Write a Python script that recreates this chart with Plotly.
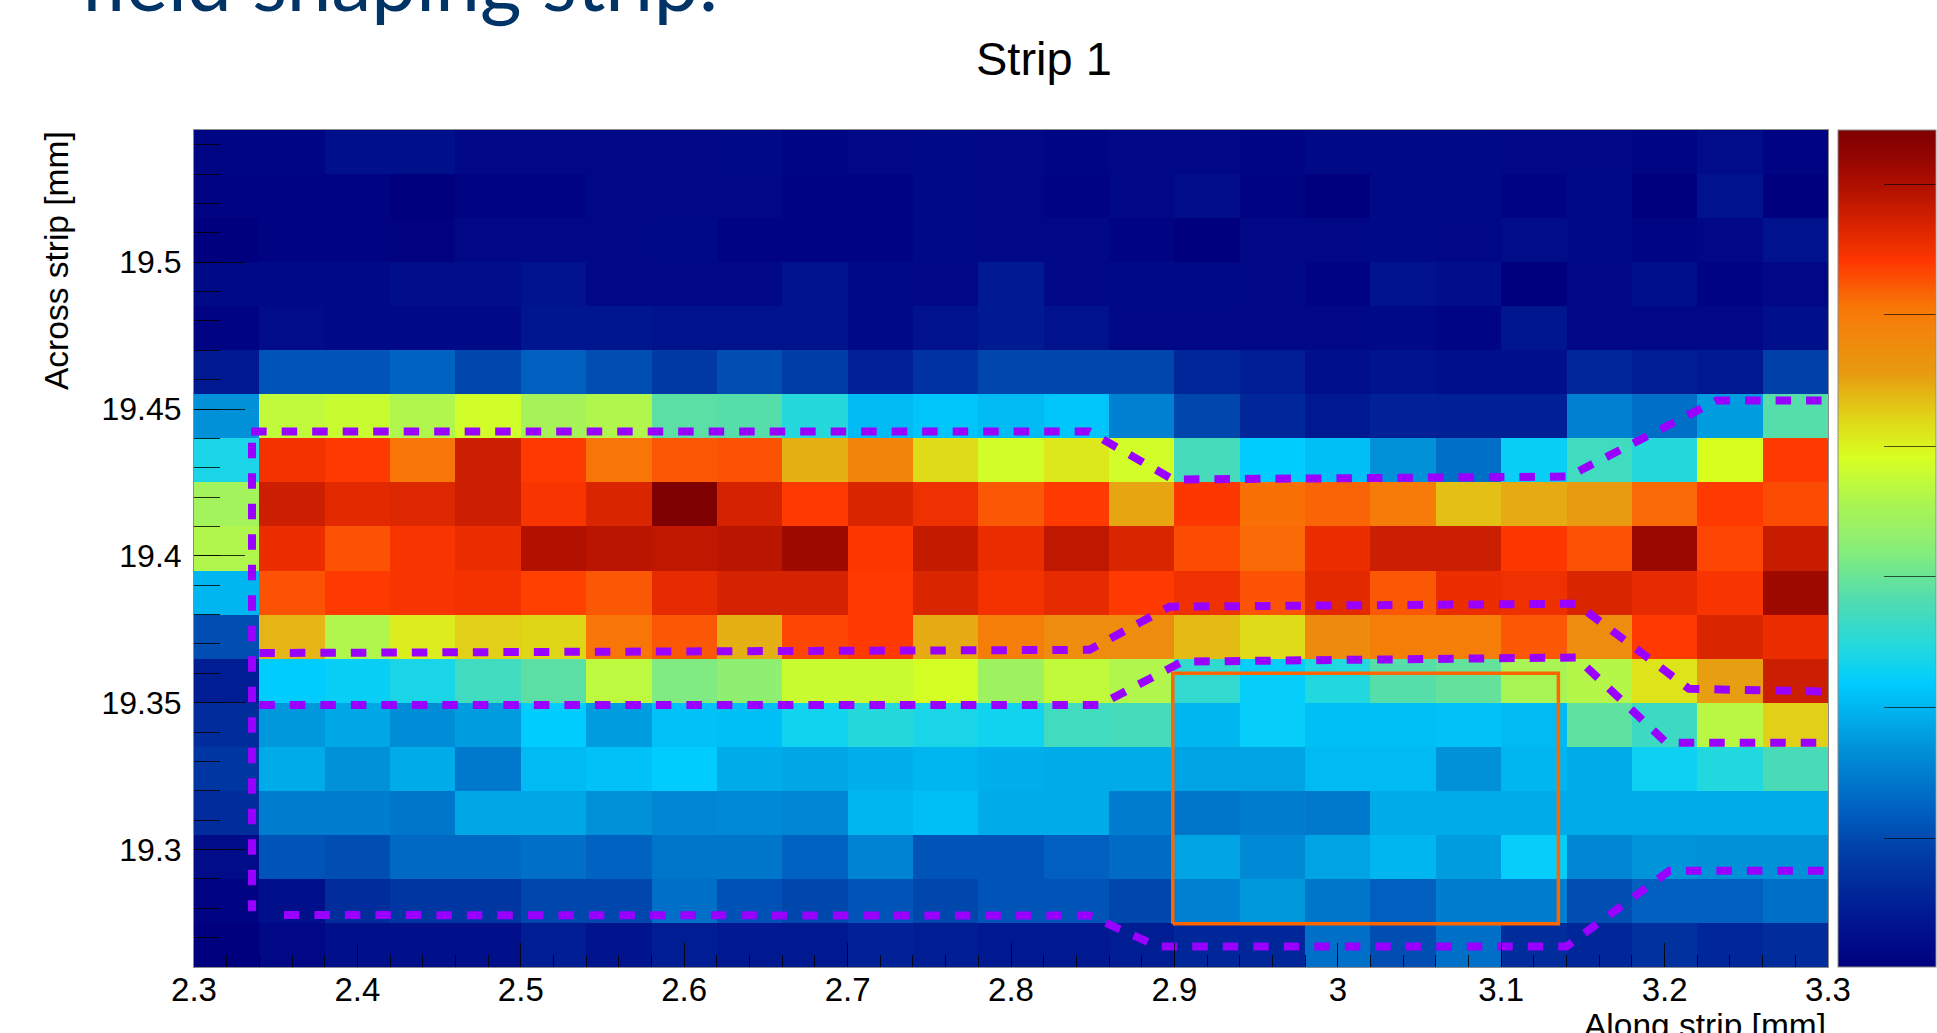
import plotly.graph_objects as go

# Bin edges
x_edges = [round(2.30 + 0.04 * i, 2) for i in range(26)]
y_edges = [round(19.26 + 0.015 * i, 3) for i in range(20)]

z_rows = [
    [1.5, 1.5, 4, 4, 2, 2, 2, 2, 2.5, 1.5, 2, 2.5, 2, 1.5, 2, 2, 1.5, 2.5, 2.5, 2.5, 2, 2, 1.5, 3, 1],
    [1, 1, 1, 0, 1, 1, 2, 2, 2, 1, 1, 2.5, 2, 1, 2, 3, 1, 0, 2.5, 2.5, 1, 2.5, 0, 4.5, 0],
    [0, 1, 1, .5, 2, 2, 2, 2.5, 1, 1, 1, 2.5, 2, 2, 1, 0, 2, 2, 2.5, 2, 3, 2.5, 1.5, 2, 4.5],
    [2.5, 2.5, 2.5, 3.5, 3.5, 4.5, 2, 2, 2, 4.5, 2.5, 2, 6, 2, 2.5, 2.5, 2, 1, 4.5, 3.5, 0, 2, 4, 1, 2],
    [1, 3, 2.5, 2.5, 2.5, 5.5, 5.5, 4.5, 4.5, 4.5, 2.5, 4.5, 6.5, 4.5, 2, 2, 2, 2, 2.5, 1.5, 5.5, 2, 2, 2, 4],
    [6, 17, 17, 19, 15, 18.5, 16, 12.5, 16, 13.5, 8, 11.5, 15, 15, 15, 9, 7, 4, 5, 4, 4, 9, 7, 6, 14],
    [26, 58, 59, 56, 60, 54.5, 56, 45, 44.5, 38.5, 31.5, 33, 31.5, 33, 23.5, 15, 9, 6, 8, 7.5, 7.5, 23.5, 21, 27.5, 44.5],
    [37, 85.5, 84, 79, 90, 84, 79, 81.5, 82, 69, 75.5, 65, 60, 63.5, 60, 42.5, 34, 32, 26, 21, 35, 42, 38.5, 61, 84],
    [54, 90, 87.5, 88, 90, 85, 88.5, 100, 89, 84, 88.5, 86, 81.5, 84, 70, 84.5, 79.5, 80.5, 78, 67.5, 69.5, 71, 80, 84, 82.5],
    [56, 86.5, 82, 85, 86.5, 93, 92, 91.5, 92, 95.5, 84.5, 91, 86.5, 91.5, 88.5, 82.5, 80, 86.5, 90, 90, 84.5, 82, 96, 83, 90.5],
    [31, 82, 84, 85, 85.5, 83.5, 81.5, 87, 89, 89, 84, 88.5, 85.5, 87, 84, 86, 82, 87.5, 81.5, 86.5, 86, 88.5, 87, 85, 95.5],
    [16, 68.5, 56, 63, 66, 65.5, 79, 81.5, 69, 83, 84, 69.5, 77.5, 74, 74, 68, 65, 74.5, 77.5, 77.5, 81.5, 74, 84, 88.5, 86.5],
    [7, 34, 35, 37, 42, 45, 57.5, 49, 51, 59, 59, 60.5, 53.5, 58, 56, 40, 34.5, 38, 44.5, 46, 55, 56.5, 64, 70.5, 90],
    [10, 27, 29, 25.5, 27.5, 34, 27.5, 32.5, 32, 36, 38.5, 37, 36, 42, 42.5, 31, 34.5, 32, 32, 32.5, 31.5, 45.5, 41.5, 57, 66],
    [12, 29.5, 26, 29.5, 22.5, 31.5, 32.5, 34, 29.5, 29, 30, 31, 30, 29.5, 29.5, 28.5, 28.5, 31.5, 31.5, 26, 31, 29.5, 35.5, 38, 43],
    [10, 23, 23, 22, 29, 29, 26, 24.5, 25, 24.5, 31, 32, 29.5, 29.5, 23, 22, 23, 22.5, 29.5, 29.5, 29.5, 29.5, 29.5, 29.5, 29.5],
    [3, 17, 16, 20, 20, 21, 19, 22, 22, 19, 24, 17, 17, 18.5, 20.5, 28.5, 25, 28.5, 31, 27.5, 34.5, 24.5, 26.5, 26, 26],
    [1, 4, 10, 12, 12, 15, 15, 21, 16.5, 15, 17, 15, 17, 17, 15, 23.5, 27, 22, 18.5, 23, 23, 16, 18.5, 18.5, 21],
    [0, 2, 4, 4, 4, 7, 5, 7, 6, 6, 8, 7, 6, 6, 7, 9, 9, 21, 16, 21, 10, 9, 11, 9, 10],
]

# Colour bar ticks (positions on the 0-100 scale, their labels are cropped off in the reference)
cbar_ticks = [15.3, 31.0, 46.6, 62.2, 77.9, 93.5]

# Dashed contours of the field-shaping strip
top_x = [2.335, 2.848, 2.899, 3.141, 3.232, 3.3]
top_y = [19.4423, 19.4423, 19.426, 19.427, 19.4529, 19.4529]
left_x = [2.3355, 2.3355]
left_y = [19.4385, 19.279]
upper_x = [2.34, 2.848, 2.897, 3.146, 3.215, 3.3]
upper_y = [19.3669, 19.368, 19.3827, 19.3837, 19.3547, 19.3538]
lower_x = [2.34, 2.854, 2.905, 3.146, 3.201, 3.3]
lower_y = [19.3492, 19.3492, 19.364, 19.3654, 19.3364, 19.3364]
bottom_x = [2.355, 2.848, 2.89, 3.14, 3.203, 3.3]
bottom_y = [19.2777, 19.2775, 19.267, 19.267, 19.2928, 19.2928]

# Orange box
box_x = [2.899, 3.135, 3.135, 2.899, 2.899]
box_y = [19.2747, 19.2747, 19.360, 19.360, 19.2747]

x_ticks = [2.3, 2.4, 2.5, 2.6, 2.7, 2.8, 2.9, 3.0, 3.1, 3.2, 3.3]
x_labels = ["2.3", "2.4", "2.5", "2.6", "2.7", "2.8", "2.9", "3", "3.1", "3.2", "3.3"]
y_ticks = [19.3, 19.35, 19.4, 19.45, 19.5]
y_labels = ["19.3", "19.35", "19.4", "19.45", "19.5"]

colorscale = [
    [0, "#00007f"], [.06, "#001890"], [.14, "#0040a8"], [.187, "#0060c0"], [.259, "#0090d8"],
    [.339, "#00ccff"], [.379, "#20d8e0"], [.438, "#50dcb0"], [.50, "#88ee78"], [.55, "#a8f455"],
    [.609, "#d8ff20"], [.653, "#e0d818"], [.71, "#e89a10"], [.788, "#f87808"], [.815, "#fa5805"],
    [.842, "#ff3800"], [.877, "#e02800"], [.932, "#b01000"], [.972, "#900400"], [1, "#7f0000"],
]

W, H = 1937, 1033
L, R, T, B = 194, 1828, 130, 967
FONT = "Liberation Sans"

fig = go.Figure()
fig.add_trace(go.Heatmap(
    x=x_edges, y=y_edges, z=z_rows[::-1], zmin=0, zmax=100, colorscale=colorscale,
    hoverinfo="skip",
    colorbar=dict(
        xref="container", x=1838 / W, xanchor="left", xpad=0,
        yref="paper", y=0, yanchor="bottom", len=1, lenmode="fraction", ypad=0,
        thickness=98, thicknessmode="pixels",
        tickmode="array", tickvals=cbar_ticks, ticks="inside", ticklen=52,
        tickcolor="rgba(0,0,0,0.65)", tickwidth=1, showticklabels=False,
        outlinecolor="#8c8c8c", outlinewidth=1,
    ),
))

for xs, ys in [(top_x, top_y), (left_x, left_y), (upper_x, upper_y), (lower_x, lower_y), (bottom_x, bottom_y)]:
    fig.add_trace(go.Scatter(x=xs, y=ys, mode="lines", hoverinfo="skip", showlegend=False,
                             line=dict(color="#9900ff", width=8, dash="15.5px,15px")))

fig.add_trace(go.Scatter(x=box_x, y=box_y, mode="lines", hoverinfo="skip", showlegend=False,
                         line=dict(color="#ff6600", width=3.5)))

fig.update_layout(
    width=W, height=H, showlegend=False,
    margin=dict(l=L, r=W - R, t=T, b=H - B, pad=0, autoexpand=False),
    paper_bgcolor="white", plot_bgcolor="white",
    font=dict(family=FONT, color="black"),
    xaxis=dict(range=[2.3, 3.3], tickmode="array", tickvals=x_ticks, ticktext=x_labels,
               ticks="inside", ticklen=24, tickwidth=1, tickcolor="rgba(0,0,0,0.8)",
               ticklabelstandoff=-7,
               tickfont=dict(size=33, family=FONT), showgrid=False, zeroline=False,
               showline=True, linecolor="#8c8c8c", linewidth=1, mirror=True,
               minor=dict(ticks="inside", ticklen=12, tickwidth=1, tickcolor="rgba(0,0,0,0.8)",
                          dtick=0.02, tick0=2.3, showgrid=False)),
    yaxis=dict(range=[19.26, 19.545], tickmode="array", tickvals=y_ticks, ticktext=y_labels,
               ticks="inside", ticklen=51, tickwidth=1, tickcolor="rgba(0,0,0,0.8)",
               ticklabelstandoff=5,
               tickfont=dict(size=32, family=FONT), showgrid=False, zeroline=False,
               showline=True, linecolor="#8c8c8c", linewidth=1, mirror=True,
               minor=dict(ticks="inside", ticklen=26, tickwidth=1, tickcolor="rgba(0,0,0,0.8)",
                          dtick=0.01, tick0=19.26, showgrid=False)),
    annotations=[
        dict(text="Strip 1", xref="paper", yref="paper", x=(1044 - L) / (R - L), y=1 + (T - 58) / (B - T),
             xanchor="center", yanchor="middle", showarrow=False, font=dict(size=47, family=FONT)),
        dict(text="Across strip [mm]", xref="paper", yref="paper", x=(56 - L) / (R - L), y=1 - (261 - T) / (B - T),
             textangle=-90, xanchor="center", yanchor="middle", showarrow=False, font=dict(size=33.5, family=FONT)),
        dict(text="Along strip [mm]", xref="paper", yref="paper", x=1, y=-(1025 - B) / (B - T),
             xanchor="right", yanchor="middle", showarrow=False, font=dict(size=33.5, family=FONT)),
        dict(text="field shaping strip:", xref="paper", yref="paper", x=(78 - L) / (R - L), y=1 + (T + 20) / (B - T),
             xanchor="left", yanchor="middle", showarrow=False, font=dict(size=80, family="Lato", color="#003366")),
    ],
)

fig.write_html("out.html", config=dict(displayModeBar=False),
               post_script="document.body.style.margin='0';document.body.style.overflow='hidden';")
